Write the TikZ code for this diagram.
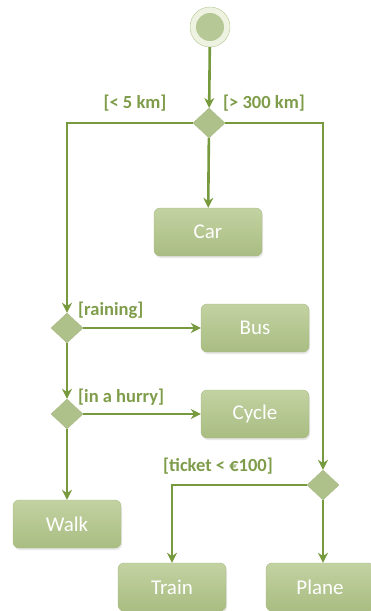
\documentclass[tikz,border=0pt]{standalone}
\usepackage{fontspec}
\setmainfont{Carlito}
\usetikzlibrary{positioning,arrows.meta,shapes.geometric,shadows}
\definecolor{linija}{HTML}{779A3F}
\definecolor{natpis}{HTML}{7E9C4A}
\definecolor{gore}{HTML}{C3D2A2}
\definecolor{dole}{HTML}{A9BD82}
\definecolor{rub}{HTML}{A8BA84}
\definecolor{romb}{HTML}{AFC18A}
\definecolor{prsten}{HTML}{EDF2E1}
\definecolor{jezgro}{HTML}{B6C896}

\begin{document}
\begin{tikzpicture}[
  x=1pt, y=-1pt,
  act/.style={rectangle, rounded corners=6pt, draw=rub, thin, top color=gore, bottom color=dole,
              minimum width=108pt, minimum height=48pt, text=white,
              font=\fontsize{21}{24}\selectfont,
              drop shadow={opacity=0.18, shadow xshift=1pt, shadow yshift=-2pt}},
  dec/.style={diamond, draw=rub, thin, fill=romb, inner sep=0pt,
              minimum width=32pt, minimum height=30pt},
  init/.style={circle, draw=jezgro, fill=prsten, minimum size=40pt, inner sep=0pt,
               path picture={\fill[jezgro] (path picture bounding box.center) circle (14pt);}},
  flow/.style={-{Stealth[length=10pt, width=10pt]}, line width=2.6pt, color=linija},
  guard/.style={font=\fontsize{18.5}{21}\selectfont\bfseries, text=natpis, inner sep=1pt}
]
\useasboundingbox (0,0) rectangle (370,611);

\node[init] (start) at (210,27) {};
\node[dec] (split) at (209,123) {};
\node[act] (car) at (208,232) {Car};
\node[dec] (rain) at (67,328) {};
\node[act] (bus) at (255,328) {Bus};
\node[dec] (hurry) at (67,414) {};
\node[act] (cycle) at (255,414) {Cycle};
\node[act] (walk) at (67,524) {Walk};
\node[dec] (price) at (323,485) {};
\node[act] (train) at (172,587) {Train};
\node[act] (plane) at (320,587) {Plane};

\node[guard] at (135,103) {[< 5 km]};
\node[guard] at (264,103) {[> 300 km]};
\node[guard, anchor=west] at (77,310) {[raining]};
\node[guard, anchor=west] at (77,397) {[in a hurry]};
\node[guard] at (218,466) {[ticket < €100]};

\draw[flow] (start) -- (split);
\draw[flow] (split) -- (car);
\draw[flow] (split.west) -| (rain.north);
\draw[flow] (split.east) -| (price.north);
\draw[flow] (rain.east) -- (bus.west);
\draw[flow] (rain) -- (hurry);
\draw[flow] (hurry.east) -- (cycle.west);
\draw[flow] (hurry) -- (walk);
\draw[flow] (price.west) -| (train.north);
\draw[flow] (price) -- (price |- plane.north);
\end{tikzpicture}
\end{document}
